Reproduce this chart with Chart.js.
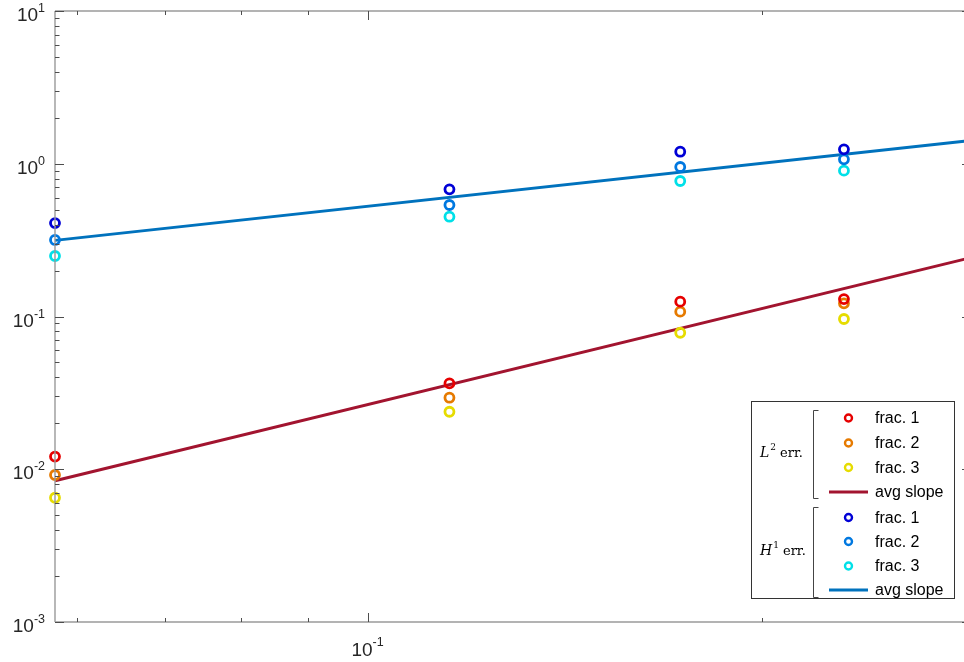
<!DOCTYPE html>
<html>
<head>
<meta charset="utf-8">
<script src="https://cdn.jsdelivr.net/npm/chart.js@4/dist/chart.umd.min.js"></script>
<style>
html,body{margin:0;padding:0;background:#fff;overflow:hidden;width:964px;height:662px;}
canvas{display:block;}
</style>
</head>
<body>
<canvas id="c" width="1000" height="662"></canvas>
<script>
// mesh sizes h
const xValues = [0.05774, 0.11547, 0.17321, 0.23094];
// L2 errors per fracture
const l2Frac1 = [0.0121, 0.0365, 0.125, 0.130];
const l2Frac2 = [0.00917, 0.0294, 0.1075, 0.122];
const l2Frac3 = [0.00651, 0.0238, 0.0783, 0.0963];
// H1 errors per fracture
const h1Frac1 = [0.409, 0.680, 1.199, 1.243];
const h1Frac2 = [0.317, 0.537, 0.952, 1.069];
const h1Frac3 = [0.249, 0.450, 0.771, 0.901];
// average slope lines (end points)
const slopeX = [0.05774, 0.2887];
const l2Slope = [0.00841, 0.243];
const h1Slope = [0.315, 1.42];
// axis ticks
const xMajorTicks = [0.1];
const xMajorExp = ['-1'];
const xMinorTicks = [0.06, 0.07, 0.08, 0.09, 0.2];
const yMajorTicks = [1e-3, 1e-2, 1e-1, 1e0, 1e1];
const yMajorExp = ['-3', '-2', '-1', '0', '1'];
const yMinorTicks = [];
[1e-3, 1e-2, 1e-1, 1e0].forEach(d => { for (let k = 2; k <= 9; k++) yMinorTicks.push(k * d); });

const COLORS = {
  l2f1: '#e60000', l2f2: '#e67a00', l2f3: '#e6dc00',
  h1f1: '#0000d6', h1f2: '#0078e0', h1f3: '#00e0e8',
  l2s: '#a2142f', h1s: '#0072bd'
};

const pts = (ys) => xValues.map((x, i) => ({ x: x, y: ys[i] }));
const line = (ys) => slopeX.map((x, i) => ({ x: x, y: ys[i] }));

function markerSet(label, data, color) {
  return { label, data: pts(data), showLine: false, pointRadius: 4.5, pointHoverRadius: 4.5,
    pointBorderWidth: 2.8, pointBorderColor: color, pointBackgroundColor: 'rgba(0,0,0,0)', borderColor: color };
}
function lineSet(label, data, color) {
  return { label, data: line(data), showLine: true, pointRadius: 0, borderWidth: 3, borderColor: color, fill: false };
}

const axisPlugin = {
  id: 'matlabAxes',
  afterDraw(chart) {
    const ctx = chart.ctx, ca = chart.chartArea, xs = chart.scales.x, ys = chart.scales.y;
    ctx.save();
    // frame
    ctx.strokeStyle = '#9a9a9a'; ctx.lineWidth = 1.4;
    ctx.beginPath();
    ctx.moveTo(ca.left, ca.top); ctx.lineTo(ca.right, ca.top);
    ctx.moveTo(ca.left, ca.bottom); ctx.lineTo(ca.right, ca.bottom);
    ctx.moveTo(ca.left, ca.top); ctx.lineTo(ca.left, ca.bottom);
    ctx.moveTo(ca.right, ca.top); ctx.lineTo(ca.right, ca.bottom);
    ctx.stroke();
    // ticks
    ctx.strokeStyle = '#4d4d4d'; ctx.lineWidth = 1;
    ctx.beginPath();
    const xt = (v, len) => { const p = Math.round(xs.getPixelForValue(v)) + 0.5;
      ctx.moveTo(p, ca.bottom); ctx.lineTo(p, ca.bottom - len);
      ctx.moveTo(p, ca.top); ctx.lineTo(p, ca.top + len); };
    const yt = (v, len) => { const p = Math.round(ys.getPixelForValue(v)) + 0.5;
      ctx.moveTo(ca.left, p); ctx.lineTo(ca.left + len, p);
      ctx.moveTo(ca.right, p); ctx.lineTo(ca.right - len, p); };
    xMajorTicks.forEach(v => xt(v, 9));
    xMinorTicks.forEach(v => xt(v, 4));
    yMajorTicks.forEach(v => yt(v, 9));
    yMinorTicks.forEach(v => yt(v, 4.5));
    ctx.stroke();
    // tick labels
    ctx.fillStyle = '#262626';
    ctx.textBaseline = 'alphabetic';
    const base = '19px "Liberation Sans", Arial, sans-serif';
    const sup = '12.5px "Liberation Sans", Arial, sans-serif';
    xMajorTicks.forEach((v, i) => {
      ctx.font = base; const w1 = ctx.measureText('10').width;
      ctx.font = sup; const w2 = ctx.measureText(xMajorExp[i]).width;
      const cx = xs.getPixelForValue(v); const x0 = cx - (w1 + w2) / 2;
      ctx.font = base; ctx.textAlign = 'left'; ctx.fillText('10', x0, ca.bottom + 34);
      ctx.font = sup; ctx.fillText(xMajorExp[i], x0 + w1, ca.bottom + 24);
    });
    yMajorTicks.forEach((v, i) => {
      const py = ys.getPixelForValue(v);
      ctx.font = sup; const w2 = ctx.measureText(yMajorExp[i]).width;
      ctx.font = base; const w1 = ctx.measureText('10').width;
      const right = 45; const x0 = right - w2 - w1;
      ctx.textAlign = 'left';
      ctx.fillText('10', x0, py + 10);
      ctx.font = sup; ctx.fillText(yMajorExp[i], x0 + w1, py + 1);
    });
    // legend
    const L = { left: 751.5, top: 401.5, right: 954.5, bottom: 598.5 };
    ctx.fillStyle = '#ffffff';
    ctx.fillRect(L.left, L.top, L.right - L.left, L.bottom - L.top);
    ctx.strokeStyle = '#333333'; ctx.lineWidth = 1;
    ctx.strokeRect(L.left, L.top, L.right - L.left, L.bottom - L.top);
    // brackets
    const bracket = (y0, y1) => {
      ctx.beginPath(); ctx.strokeStyle = '#444'; ctx.lineWidth = 1;
      ctx.moveTo(818.5, y0); ctx.lineTo(813.5, y0); ctx.lineTo(813.5, y1); ctx.lineTo(818.5, y1);
      ctx.stroke();
    };
    bracket(410.5, 498.5);
    bracket(507.5, 597.5);
    const entries = [
      { y: 418, kind: 'm', color: COLORS.l2f1, text: 'frac. 1' },
      { y: 443, kind: 'm', color: COLORS.l2f2, text: 'frac. 2' },
      { y: 467.5, kind: 'm', color: COLORS.l2f3, text: 'frac. 3' },
      { y: 492, kind: 'l', color: COLORS.l2s, text: 'avg slope' },
      { y: 517.5, kind: 'm', color: COLORS.h1f1, text: 'frac. 1' },
      { y: 541.5, kind: 'm', color: COLORS.h1f2, text: 'frac. 2' },
      { y: 566, kind: 'm', color: COLORS.h1f3, text: 'frac. 3' },
      { y: 590, kind: 'l', color: COLORS.h1s, text: 'avg slope' }
    ];
    entries.forEach(e => {
      if (e.kind === 'm') {
        ctx.beginPath(); ctx.strokeStyle = e.color; ctx.lineWidth = 2.4;
        ctx.arc(848.5, e.y, 3.5, 0, Math.PI * 2); ctx.stroke();
      } else {
        ctx.beginPath(); ctx.strokeStyle = e.color; ctx.lineWidth = 3;
        ctx.moveTo(829, e.y); ctx.lineTo(868, e.y); ctx.stroke();
      }
      ctx.fillStyle = '#000'; ctx.font = '16px "Liberation Sans", Arial, sans-serif';
      ctx.textAlign = 'left'; ctx.textBaseline = 'middle';
      ctx.fillText(e.text, 875, e.y + 1);
    });
    // group labels (LaTeX-like)
    const groupLabel = (letter, supTxt, y) => {
      ctx.textBaseline = 'alphabetic'; ctx.fillStyle = '#000'; ctx.textAlign = 'left';
      let x = 760;
      ctx.font = 'italic 14px "DejaVu Serif", "Liberation Serif", serif';
      ctx.fillText(letter, x, y + 5); x += ctx.measureText(letter).width + 1;
      ctx.font = '9px "DejaVu Serif", "Liberation Serif", serif';
      ctx.fillText(supTxt, x, y - 2); x += ctx.measureText(supTxt).width + 4;
      ctx.font = '13px "DejaVu Serif", "Liberation Serif", serif';
      ctx.fillText('err.', x, y + 5);
    };
    groupLabel('L', '2', 452);
    groupLabel('H', '1', 550);
    ctx.restore();
  }
};

new Chart(document.getElementById('c'), {
  type: 'scatter',
  data: {
    datasets: [
      markerSet('L2 frac. 1', l2Frac1, COLORS.l2f1),
      markerSet('L2 frac. 2', l2Frac2, COLORS.l2f2),
      markerSet('L2 frac. 3', l2Frac3, COLORS.l2f3),
      markerSet('H1 frac. 1', h1Frac1, COLORS.h1f1),
      markerSet('H1 frac. 2', h1Frac2, COLORS.h1f2),
      markerSet('H1 frac. 3', h1Frac3, COLORS.h1f3),
      lineSet('L2 avg slope', l2Slope, COLORS.l2s),
      lineSet('H1 avg slope', h1Slope, COLORS.h1s)
    ]
  },
  options: {
    responsive: false,
    animation: false,
    clip: false,
    layout: { padding: { left: 55, right: 29, top: 11, bottom: 40 } },
    plugins: { legend: { display: false }, tooltip: { enabled: false } },
    scales: {
      x: { type: 'logarithmic', min: slopeX[0], max: slopeX[1], display: false },
      y: { type: 'logarithmic', min: 1e-3, max: 1e1, display: false }
    }
  },
  plugins: [axisPlugin]
});
</script>
</body>
</html>
